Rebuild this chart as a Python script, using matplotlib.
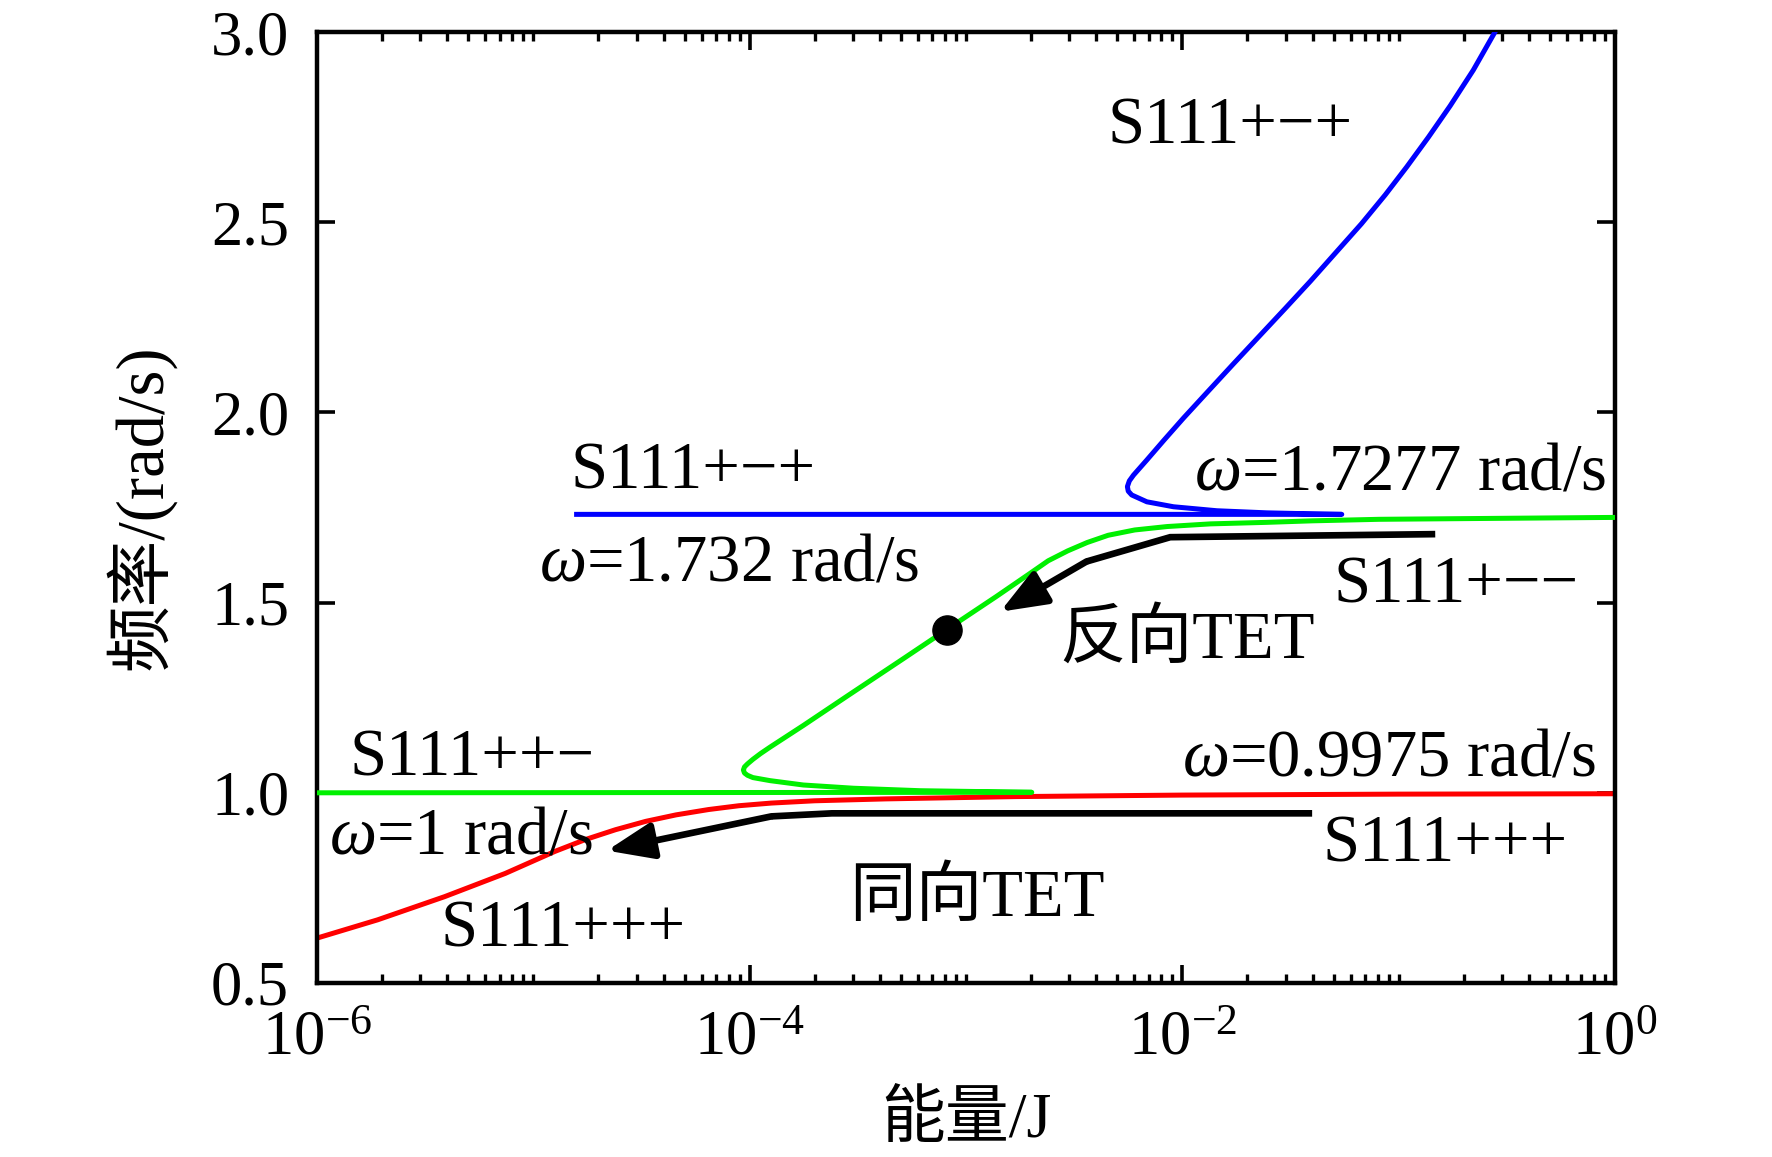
import numpy as np
import matplotlib
matplotlib.use('Agg')
import matplotlib.pyplot as plt
from matplotlib.ticker import FixedLocator, LogLocator, NullFormatter, FuncFormatter

# 字体: 西文用 Liberation Serif, 中文回落到 Noto Sans CJK SC
plt.rcParams['font.family'] = ['Liberation Serif', 'Noto Sans CJK SC']
plt.rcParams['mathtext.fontset'] = 'custom'
plt.rcParams['mathtext.rm'] = 'Liberation Serif'
plt.rcParams['mathtext.it'] = 'Liberation Serif:italic'
plt.rcParams['axes.unicode_minus'] = True

# ---- 数据 (从图中读取, 能量取 log10) ----
# S111+-+ 蓝线
blue_logE = [-4.80, -1.263, -1.45, -1.609, -1.84, -2.041, -2.164, -2.234, -2.250, -2.254,
             -2.245, -2.226, -2.164, -2.085, -1.995, -1.885, -1.765, -1.645, -1.525, -1.408,
             -1.294, -1.172, -1.062, -0.962, -0.862, -0.762, -0.655, -0.555]
blue_w = [1.732, 1.732, 1.734, 1.736, 1.7415, 1.752, 1.765, 1.783, 1.793, 1.805,
          1.820, 1.835, 1.875, 1.927, 1.985, 2.053, 2.127, 2.200, 2.273, 2.345,
          2.418, 2.496, 2.572, 2.646, 2.724, 2.806, 2.900, 3.0]

# S111++- / S111+-- 绿线
green_logE = [-6.0, -2.696, -3.212, -3.52, -3.752, -3.906, -3.985, -4.010, -4.024, -4.029,
              -4.024, -4.010, -3.985, -3.950, -3.906, -3.752, -3.55, -3.286, -3.092, -2.86,
              -2.696, -2.62, -2.53, -2.44, -2.343, -2.22, -2.07, -1.87, -1.61, -1.40,
              -1.09, 0.0]
green_w = [1.0, 1.0013, 1.0055, 1.012, 1.0205, 1.032, 1.040, 1.046, 1.052, 1.060,
           1.068, 1.076, 1.088, 1.103, 1.120, 1.177, 1.254, 1.354, 1.428, 1.516,
           1.580, 1.610, 1.636, 1.658, 1.677, 1.691, 1.700, 1.707, 1.711, 1.715,
           1.719, 1.724]

# S111+++ 红线
red_logE = [-6.0, -5.72, -5.41, -5.13, -4.90, -4.76, -4.62, -4.48, -4.34, -4.19,
            -4.05, -3.90, -3.70, -3.37, -2.77, -2.0, -1.0, 0.0]
red_w = [0.618, 0.666, 0.727, 0.788, 0.846, 0.877, 0.903, 0.925, 0.942, 0.956,
         0.966, 0.973, 0.979, 0.984, 0.990, 0.994, 0.9965, 0.9975]

# TET 箭头 (黑线), 最后一点为箭头尖
arrow_up_logE = [-0.831, -2.056, -2.443, -2.842]
arrow_up_w = [1.680, 1.672, 1.608, 1.476]
arrow_low_logE = [-1.40, -3.62, -3.90, -4.66]
arrow_low_w = [0.946, 0.946, 0.938, 0.848]

# 黑点
dot_logE = -3.09
dot_w = 1.428

# 标注文字 (log10 E, w, 文本)
labels = [
    (-2.348, 2.708, 'S111+\u2212+'),
    (-4.827, 1.799, 'S111+\u2212+'),
    (-1.945, 1.797, r'$\omega$=1.7277 rad/s'),
    (-4.974, 1.557, r'$\omega$=1.732 rad/s'),
    (-1.300, 1.499, 'S111+\u2212\u2212'),
    (-2.567, 1.354, '反向TET'),
    (-5.850, 1.045, 'S111++\u2212'),
    (-2.000, 1.045, r'$\omega$=0.9975 rad/s'),
    (-5.945, 0.841, r'$\omega$=1 rad/s'),
    (-1.354, 0.820, 'S111+++'),
    (-3.540, 0.676, '同向TET'),
    (-5.427, 0.595, 'S111+++'),
]

xticks = [1e-6, 1e-4, 1e-2, 1e0]
yticks = [0.5, 1.0, 1.5, 2.0, 2.5, 3.0]


def E(v):
    return 10.0 ** np.asarray(v)


fig = plt.figure(figsize=(17.72, 11.57), dpi=100)
ax = fig.add_axes([0.1789, 0.1504, 0.7325, 0.8219])

ax.plot(E(red_logE), red_w, color='#ff0000', lw=3.6, zorder=2)
ax.plot(E(green_logE), green_w, color='#00f000', lw=3.6, zorder=3)
ax.plot(E(blue_logE), blue_w, color='#0000ff', lw=3.6, zorder=4)

for lx, wy in [(arrow_up_logE, arrow_up_w), (arrow_low_logE, arrow_low_w)]:
    ax.plot(E(lx[:-1]), wy[:-1], color='k', lw=4.8, solid_capstyle='butt',
            solid_joinstyle='miter', zorder=5)
    ax.annotate('', xy=(E(lx[-1]), wy[-1]), xytext=(E(lx[-2]), wy[-2]),
                arrowprops=dict(arrowstyle='-|>,head_length=1.4,head_width=0.55',
                                mutation_scale=20, lw=4.8, color='k',
                                shrinkA=0, shrinkB=0), zorder=5)

ax.plot(E(dot_logE), dot_w, 'o', color='k', markersize=21, zorder=6)

for lx, wy, s in labels:
    ax.text(E(lx), wy, s, fontsize=48, ha='left', va='baseline', zorder=7)

ax.set_xscale('log')
ax.set_xlim(1e-6, 1e0)
ax.set_ylim(0.5, 3.0)

ax.xaxis.set_major_locator(FixedLocator(xticks))
ax.xaxis.set_major_formatter(FuncFormatter(
    lambda v, p: r'$\mathdefault{10^{%d}}$' % int(round(np.log10(v)))))
ax.xaxis.set_minor_locator(LogLocator(base=10.0, subs=np.arange(1, 10), numticks=100))
ax.xaxis.set_minor_formatter(NullFormatter())
ax.yaxis.set_major_locator(FixedLocator(yticks))
ax.yaxis.set_major_formatter(FuncFormatter(lambda v, p: '%.1f' % v))
ax.yaxis.set_minor_locator(FixedLocator([]))

for sp in ax.spines.values():
    sp.set_linewidth(3.2)

ax.tick_params(which='both', direction='in', top=True, right=True, labelsize=45)
ax.tick_params(which='major', length=13, width=2.6, pad=20)
ax.tick_params(which='minor', length=6.5, width=2.4)

ax.set_xlabel('能量/J', fontsize=46)
ax.set_ylabel('频率/(rad/s)', fontsize=48)
ax.xaxis.set_label_coords(0.5, -0.115)
ax.yaxis.set_label_coords(-0.109, 0.5)

fig.savefig('out.png', dpi=100)
